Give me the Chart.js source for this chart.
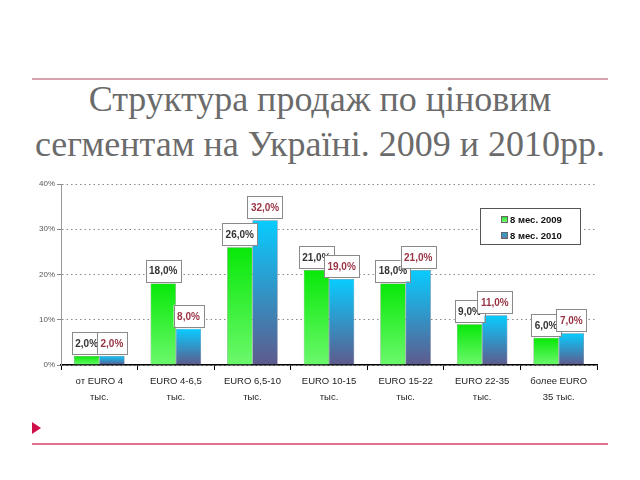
<!DOCTYPE html>
<html>
<head>
<meta charset="utf-8">
<script src="https://cdn.jsdelivr.net/npm/chart.js@4/dist/chart.umd.min.js"></script>
<style>
  html, body { margin:0; padding:0; background:#fff; width:640px; height:480px; overflow:hidden; }
  #topline { position:absolute; left:32px; top:78px; width:576px; height:2px; background:#d7a3ae; }
  #botline { position:absolute; left:32px; top:443px; width:576px; height:2px; background:#e3708c; }
  #tri { position:absolute; left:32px; top:422px; width:0; height:0; border-top:6px solid transparent; border-bottom:6px solid transparent; border-left:9px solid #d0104a; }
  #title { position:absolute; left:0; top:77px; width:640px; text-align:center; font-family:"Liberation Serif","DejaVu Serif",serif; font-size:36px; line-height:45px; color:#6b6b6b; }
  #wrap { position:absolute; left:30px; top:175px; width:580px; height:230px; }
</style>
</head>
<body>
<div id="topline"></div>
<div id="title">Структура продаж по ціновим<br>сегментам на Україні. 2009 и 2010рр.</div>
<div id="wrap"><canvas id="c" width="580" height="230"></canvas></div>
<div id="botline"></div>
<div id="tri"></div>
<script>
const categories = [
  ["от EURO 4", "тыс."],
  ["EURO 4-6,5", "тыс."],
  ["EURO 6,5-10", "тыс."],
  ["EURO 10-15", "тыс."],
  ["EURO 15-22", "тыс."],
  ["EURO 22-35", "тыс."],
  ["более EURO", "35 тыс."]
];
const series2009 = [2, 18, 26, 21, 18, 9, 6];
const series2010 = [2, 8, 32, 19, 21, 11, 7];
const seriesNames = ["8 мес. 2009", "8 мес. 2010"];
const yTicks = [0, 10, 20, 30, 40];

function grad(ctx, area, y, top, bottom) {
  const g = ctx.createLinearGradient(0, y, 0, area.bottom);
  g.addColorStop(0, top);
  g.addColorStop(1, bottom);
  return g;
}
function barColor(top, bottom) {
  return function(context) {
    const chart = context.chart;
    const area = chart.chartArea;
    if (!area || context.raw === undefined) return top;
    const y = chart.scales.y.getPixelForValue(context.raw);
    return grad(chart.ctx, area, y, top, bottom);
  };
}

const labelPlugin = {
  id: 'boxLabels',
  afterDatasetsDraw(chart) {
    const ctx = chart.ctx;
    ctx.save();
    ctx.font = 'bold 10px "Liberation Sans", Arial, sans-serif';
    ctx.textAlign = 'center';
    ctx.textBaseline = 'middle';
    const colors = ['#333333', '#993344'];
    chart.data.datasets.forEach((ds, di) => {
      const meta = chart.getDatasetMeta(di);
      meta.data.forEach((bar, i) => {
        const txt = ds.data[i].toFixed(1).replace('.', ',') + '%';
        const w = ctx.measureText(txt).width + 7;
        const h = 22;
        const x = bar.x - w / 2;
        const y = bar.y - 2 - h;
        ctx.fillStyle = '#ffffff';
        ctx.fillRect(x, y, w, h);
        ctx.strokeStyle = '#8a8a8a';
        ctx.lineWidth = 1;
        ctx.strokeRect(Math.round(x) + 0.5, Math.round(y) + 0.5, Math.round(w), h);
        ctx.fillStyle = colors[di];
        ctx.fillText(txt, bar.x, y + h / 2 + 1);
      });
    });
    // legend
    const lx = 450, ly = 33, lw = 100, lh = 36;
    ctx.fillStyle = '#fff';
    ctx.fillRect(lx, ly, lw, lh);
    ctx.strokeStyle = '#555';
    ctx.strokeRect(lx + 0.5, ly + 0.5, lw, lh);
    const sw = [['#22dd22', '#88ff88'], ['#22aadd', '#6a7aa0']];
    ctx.font = 'bold 9.5px "Liberation Sans", Arial, sans-serif';
    ctx.textAlign = 'left';
    seriesNames.forEach((n, k) => {
      const sy = ly + 8 + k * 16;
      const g = ctx.createLinearGradient(0, sy, 0, sy + 7);
      g.addColorStop(0, sw[k][0]); g.addColorStop(1, sw[k][1]);
      ctx.fillStyle = g;
      ctx.fillRect(lx + 21, sy, 7, 7);
      ctx.strokeStyle = '#666';
      ctx.strokeRect(lx + 21.5, sy + 0.5, 6, 6);
      ctx.fillStyle = '#111';
      ctx.fillText(n, lx + 30, sy + 4);
    });
    ctx.restore();
  }
};

new Chart(document.getElementById('c'), {
  type: 'bar',
  data: {
    labels: categories,
    datasets: [
      { label: seriesNames[0], data: series2009, backgroundColor: barColor('#08e808', '#6cf86c'), borderColor: '#2a7a2a', borderWidth: 0.5 },
      { label: seriesNames[1], data: series2010, backgroundColor: barColor('#08ccff', '#5e5a8c'), borderColor: '#3a4a6a', borderWidth: 0.5 }
    ]
  },
  options: {
    responsive: false,
    animation: false,
    devicePixelRatio: 1,
    layout: { padding: { top: 9, right: 13, left: 0, bottom: 0 } },
    plugins: { legend: { display: false }, tooltip: { enabled: false } },
    datasets: { bar: { categoryPercentage: 0.66, barPercentage: 1.0 } },
    scales: {
      x: {
        afterFit(s) { s.height = 40; },
        grid: { display: true, drawOnChartArea: false, offset: true, tickLength: 5, color: '#000' },
        border: { color: '#000', width: 1.5 },
        ticks: { color: '#222', font: { family: '"Liberation Sans", Arial, sans-serif', size: 9.5, lineHeight: 1.7 }, padding: 3, maxRotation: 0, autoSkip: false }
      },
      y: {
        min: 0, max: 40,
        afterFit(s) { s.width = 31; },
        afterBuildTicks(s) { s.ticks = yTicks.map(v => ({ value: v })); },
        grid: { color: '#888', tickLength: 4, drawTicks: true },
        border: { color: '#999', width: 1, dash: [1.5, 3] },
        ticks: { color: '#555', font: { family: '"Liberation Sans", Arial, sans-serif', size: 8 }, padding: 2, callback: v => v + '%' }
      }
    }
  },
  plugins: [labelPlugin]
});
</script>
</body>
</html>
